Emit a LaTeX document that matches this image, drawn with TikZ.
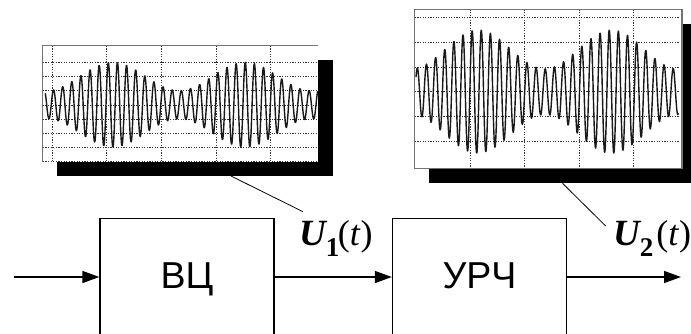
\documentclass[tikz,border=0pt]{standalone}
\usepackage{fontspec}
\setmainfont{Liberation Sans}
\newfontfamily\serifrm{Liberation Serif}
\usetikzlibrary{arrows.meta}
\tikzset{
  blockbox/.style={draw,line width=1.3pt,minimum width=174pt,minimum height=117pt,inner sep=0pt,font=\fontsize{37.5}{37.5}\selectfont,text height=22pt,text depth=0pt},
  signal/.style={-{Triangle[length=17pt,width=12pt]},line width=1.4pt},
  leader/.style={line width=0.8pt},
  gridline/.style={black!80,line width=0.7pt,dash pattern=on 1.2pt off 1.4pt},
  frameline/.style={black!55,line width=1.2pt},
  wave/.style={line width=1.4pt,black!90,line join=round,smooth},
  sigtext/.style={anchor=base west,inner sep=0pt,font=\serifrm\fontsize{36}{36}\selectfont}
}
\begin{document}
\begin{tikzpicture}[x=1pt,y=-1pt]
    \useasboundingbox (0,0) rectangle (691,333);
    \clip (0,0) rectangle (691,333);
    % First screen
    \fill (57,60) rectangle (333,176);
    \fill[white] (42.7,45.7) rectangle (317.7,161.7);
    \foreach \y in {62.3,76.3,90.7,105,119,133.3,147.3,161.7}
        \draw[gridline] (42.7,\y) -- (317.7,\y);
    \foreach \x in {52.3,106.3,161.3,216,270.7}
        \draw[gridline] (\x,45.7) -- (\x,161.7);
    \draw[frameline] (42.7,161.7) -- (42.7,45.7) -- (317.7,45.7);
    \draw[wave] plot[domain=45.3:317.7,samples=600]
        (\x,{104.7-(28.3+14.2*cos(2.721*(\x-112.7)))*cos(39.43*(\x-108.3))});
    % Second screen
    \fill (428.7,24) rectangle (696,183.3);
    \fill[white] (414.7,9.3) rectangle (682,168.3);
    \foreach \y in {17.3,42.3,67.3,91.7,116.3,141.3}
        \draw[gridline] (414.7,\y) -- (678.5,\y);
    \foreach \x in {470.3,524.3,579,633.7}
        \draw[gridline] (\x,9.3) -- (\x,168.3);
    \draw[frameline] (414.7,9.3) rectangle (682,168.3);
    \draw[wave] plot[domain=416:678.3,samples=600]
        (\x,{91.7-(42.3+19.4*cos(2.697*(\x-478)))*cos(39.39*(\x-417.3))});
    % Blocks
    \node[blockbox] (vc) at (187,277) {ВЦ};
    \node[blockbox] (urch) at (479.5,277) {УРЧ};
    \coordinate (input) at (14,277);
    \coordinate (output) at (681,277);
    \draw[signal] (input) -- (vc);
    \draw[signal] (vc) -- (urch);
    \draw[signal] (urch) -- (output);
    % Labels
    \node[sigtext] (uone) at (299,245) {{\bfseries\itshape\fontsize{37}{37}\selectfont U}\raisebox{-11pt}{\bfseries\fontsize{27}{27}\selectfont 1}\kern-1.5pt(\textit{t})};
    \node[sigtext] (utwo) at (613,245) {{\bfseries\itshape\fontsize{37}{37}\selectfont U}\raisebox{-11pt}{\bfseries\fontsize{27}{27}\selectfont 2}\kern3pt(\textit{t})};
    % Leaders
    \coordinate (screenone) at (231,176);
    \coordinate (tipone) at (303,211.7);
    \coordinate (screentwo) at (562.5,183.3);
    \coordinate (tiptwo) at (605.7,226);
    \draw[leader] (screenone) -- (tipone);
    \draw[leader] (screentwo) -- (tiptwo);
\end{tikzpicture}
\end{document}
